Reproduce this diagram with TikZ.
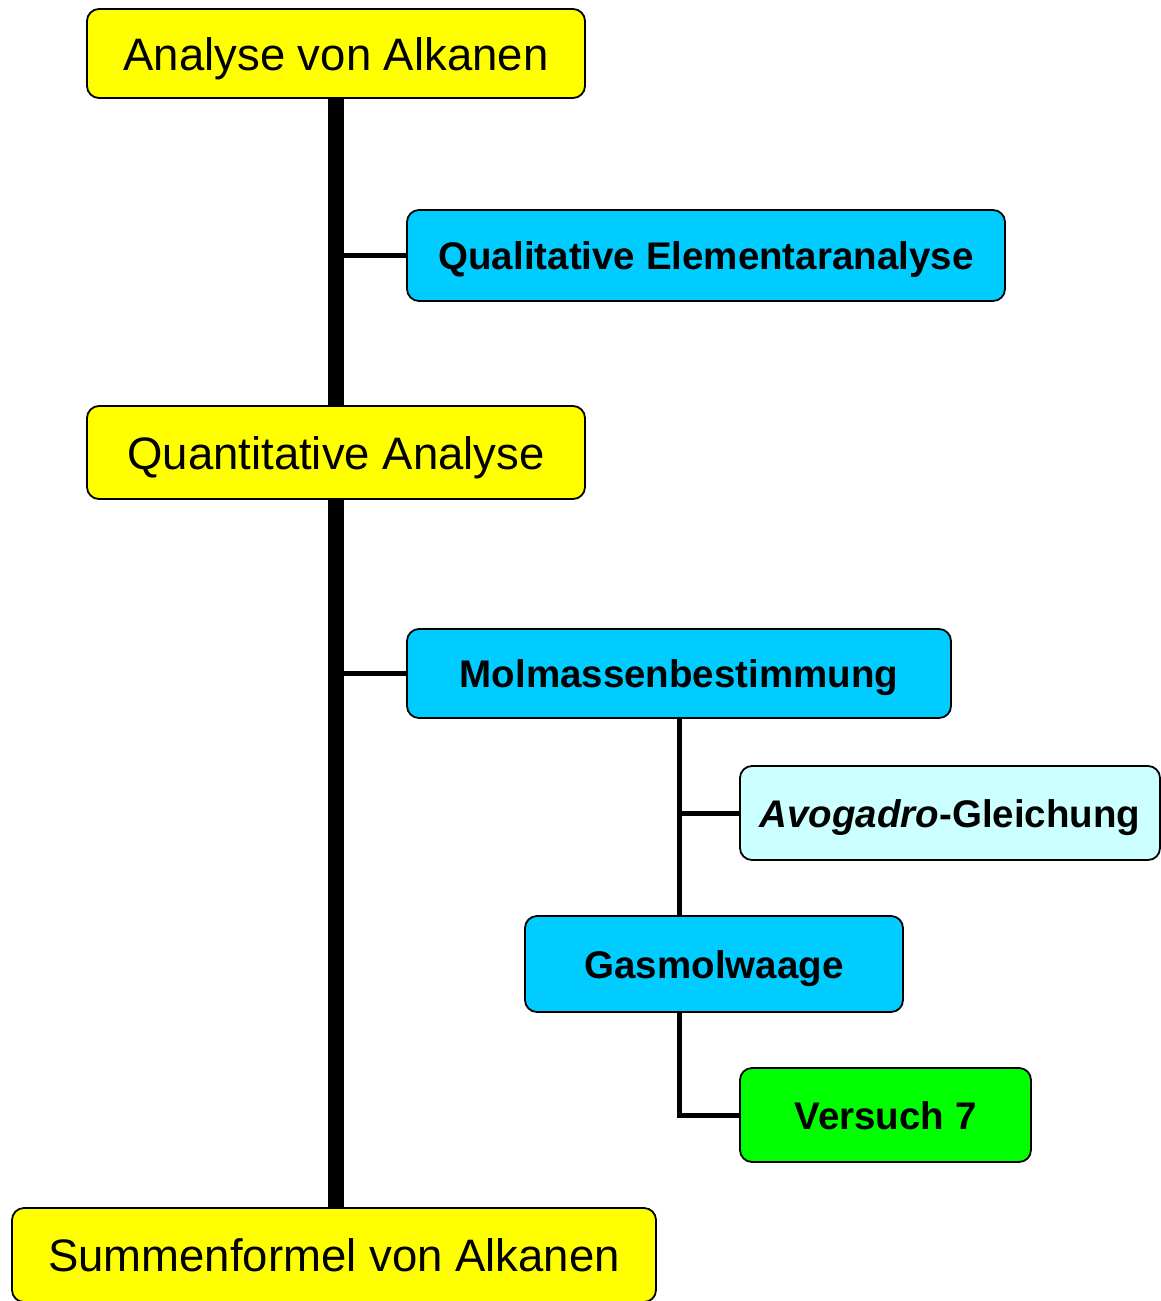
\documentclass[tikz,border=0pt]{standalone}
\usepackage{fontspec}
\setmainfont{Liberation Sans}
\definecolor{boxyellow}{RGB}{255, 255, 0}
\definecolor{boxcyan}{RGB}{0, 204, 255}
\definecolor{boxpale}{RGB}{204, 255, 255}
\definecolor{boxgreen}{RGB}{0, 255, 0}
\usetikzlibrary{positioning, calc}

\begin{document}
\begin{tikzpicture}[x=1pt, y=-1pt,
    topicbox/.style={draw=black, line width=1.8pt, rounded corners=12pt, inner sep=0pt, text depth=0pt},
    mainbox/.style={topicbox, fill=boxyellow, text height=33pt, font=\fontsize{45.5}{50}\selectfont},
    subbox/.style={topicbox, fill=boxcyan, text height=28pt, font=\fontsize{38.5}{44}\selectfont\bfseries},
    trunk/.style={line width=16pt},
    branch/.style={line width=5pt}]
    \useasboundingbox (0,0) rectangle (1161,1301);

    % Main steps
    \node[mainbox, minimum width=498pt, minimum height=89pt] (alk) at (336,53.5) {Analyse von Alkanen};
    \node[mainbox, minimum width=498pt, minimum height=93pt] (quant) at (336,452.5) {Quantitative Analyse};
    \node[mainbox, minimum width=644pt, minimum height=94pt] (summe) at (334,1255) {Summenformel von Alkanen};

    % Side steps
    \node[subbox, minimum width=598pt, minimum height=91pt] (qual) at (706,255.5) {Qualitative Elementaranalyse};
    \node[subbox, minimum width=544pt, minimum height=89pt] (molm) at (679,673.5) {Molmassenbestimmung};
    \node[subbox, fill=boxpale, minimum width=420pt, minimum height=94pt] (avog) at (950,813) {\textit{Avogadro}-Gleichung};
    \node[subbox, minimum width=378pt, minimum height=96pt] (gasm) at (714,964) {Gasmolwaage};
    \node[subbox, fill=boxgreen, minimum width=291pt, minimum height=94pt] (vers) at (885.5,1115) {Versuch 7};

    % Trunk
    \draw[trunk] (alk.south) -- (quant.north);
    \draw[trunk] (quant.south) -- (quant.south |- summe.north);

    % Branches
    \draw[branch] (qual.west) -- (qual.west -| alk.south);
    \draw[branch] (molm.west) -- (molm.west -| alk.south);
    \draw[branch] (molm.south) -- (molm.south |- gasm.north);
    \draw[branch] (avog.west) -- (avog.west -| molm.south);
    \draw[branch] (molm.south |- gasm.south) |- (vers.west);
\end{tikzpicture}
\end{document}
